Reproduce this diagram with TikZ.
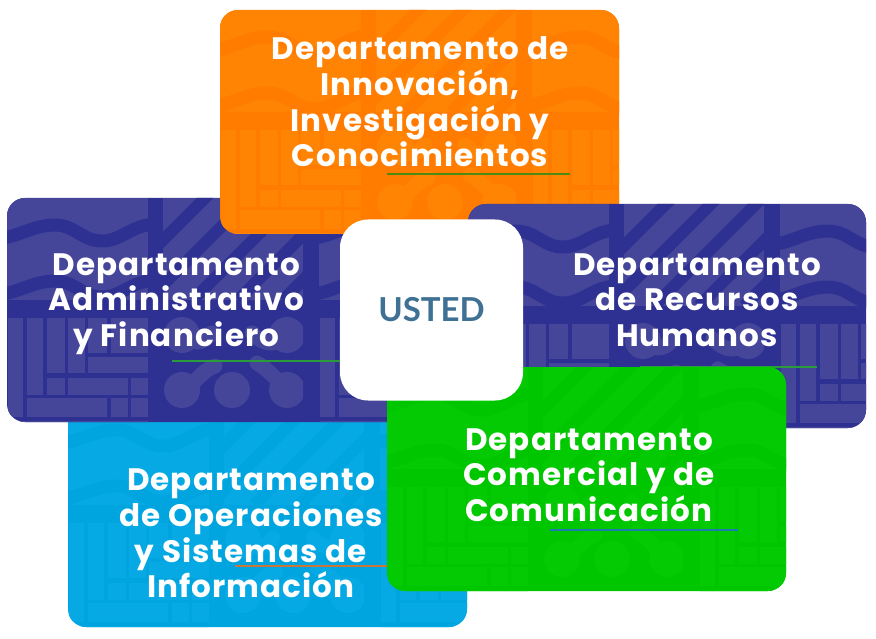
\documentclass[tikz,border=0pt]{standalone}
\usepackage{fontspec}
\setmainfont{Poppins}[LetterSpace=3.5]
\newfontfamily\ustedfont{Lato}
\definecolor{purD}{HTML}{2E3192}
\definecolor{purL}{HTML}{45469A}
\definecolor{oraD}{HTML}{FF7C00}
\definecolor{oraL}{HTML}{FF8404}
\definecolor{bluD}{HTML}{00A5E0}
\definecolor{bluL}{HTML}{06A9E3}
\definecolor{greD}{HTML}{00C600}
\definecolor{greL}{HTML}{03CA03}
\definecolor{ustedc}{HTML}{3F7195}
\definecolor{ruleOra}{HTML}{C8763A}
\definecolor{ruleGre}{HTML}{2A9A3A}
\definecolor{ruleOli}{HTML}{4F8A10}
\definecolor{ruleBlu}{HTML}{1C7AB5}
\tikzset{
  cardtext/.style={text=white,font=\fontsize{31}{35.7}\selectfont\bfseries,align=center,inner sep=0pt},
  rule/.style={line width=1.4pt},
  centrebox/.style={fill=white,rounded corners=28pt,minimum width=183pt,minimum height=181pt,inner sep=0pt,text=ustedc,font=\ustedfont\fontsize{33}{36}\selectfont\bfseries},
}
\newcommand{\bricks}[1]{%
  \begin{scope}[shift={(#1,0)}]
    \fill (1,120) rectangle (16,219);
    \fill (20,120) rectangle (36,197);
    \fill (40,120) rectangle (58,175);
    \fill (61,120) rectangle (78,175);
    \fill (81,120) rectangle (100,155);
    \fill (104,120) rectangle (141,155);
    \fill (81,159) rectangle (141,175);
    \fill (40,180) rectangle (58,197);
    \fill (61,180) rectangle (121,197);
    \fill (124,180) rectangle (141,197);
    \fill (20,200) rectangle (100,219);
    \fill (104,200) rectangle (121,219);
    \fill (124,200) rectangle (141,219);
    \fill (1,223) rectangle (141,240);
  \end{scope}}
\newcommand{\waves}[1]{%
  \begin{scope}[shift={(#1,0)}]
    \fill (0,0) rectangle (141,102);
    \foreach \wy in {34,90}{
      \draw[line width=13pt,draw=basecol]
        (-8,\wy+6) .. controls (10,\wy+6) and (25,\wy-7) .. (48,\wy-7)
        .. controls (68,\wy-7) and (75,\wy+9) .. (95,\wy+9)
        .. controls (115,\wy+9) and (125,\wy-8) .. (150,\wy-8);
    }
  \end{scope}}
\newcommand{\cardbg}[5]{% x y base light width
  \begin{scope}[shift={(#1,#2)}]
    \colorlet{basecol}{#3}
    \fill[#3,rounded corners=18pt] (0,0) rectangle (#5,224);
    \clip[rounded corners=18pt] (0,0) rectangle (#5,224);
    \begin{scope}[fill=#4]
      \waves{0}\waves{312}
      \bricks{0}\bricks{312}
      \begin{scope}
        \clip (156,0) rectangle (296,102);
        \fill (156,0) rectangle (296,102);
        \foreach \d in {-60,-15,30,75,120}{
          \draw[line width=12pt,draw=#3] (156+\d,102) -- (156+\d+110,-8);
        }
      \end{scope}
      \begin{scope}
        \clip (156,119) rectangle (296,224);
        \foreach \cx/\cy in {175/137,280/137,175/192,225/192,280/192}{
          \fill (\cx,\cy) circle (18);
        }
        \draw[line width=15pt,draw=#4,line cap=round] (175,192) .. controls (190,185) and (195,172) .. (208,168);
        \draw[line width=15pt,draw=#4,line cap=round] (280,192) .. controls (270,182) and (262,172) .. (250,165);
        \draw[line width=15pt,draw=#4,line cap=round] (175,137) .. controls (185,145) and (195,148) .. (205,135);
        \draw[line width=15pt,draw=#4,line cap=round] (280,137) .. controls (268,148) and (258,148) .. (245,135);
      \end{scope}
    \end{scope}
  \end{scope}}
\begin{document}
\begin{tikzpicture}[x=1pt,y=-1pt]
\useasboundingbox (0,0) rectangle (876,639);
% blue
\begin{scope}\cardbg{68}{403}{bluD}{bluL}{399}\end{scope}
\node[cardtext] (azul) at (251,533.5) {Departamento\\de Operaciones\\y Sistemas de\\Información};
\coordinate (azulA) at (235,566); \coordinate (azulB) at (392,566);
\draw[rule,draw=ruleOra] (azulA) -- (azulB);
% left purple
\begin{scope}\cardbg{7}{198}{purD}{purL}{399}\end{scope}
\node[cardtext] (admin) at (176.5,304) {Departamento\\Administrativo\\y Financiero};
\coordinate (adminA) at (172,361); \coordinate (adminB) at (345,361);
\draw[rule,draw=ruleGre] (adminA) -- (adminB);
% orange
\begin{scope}\cardbg{220}{10}{oraD}{oraL}{399}\end{scope}
\node[cardtext] (innov) at (420,102) {Departamento de\\Innovación,\\Investigación y\\Conocimientos};
\coordinate (innovA) at (387,174); \coordinate (innovB) at (570,174);
\draw[rule,draw=ruleOli] (innovA) -- (innovB);
% right purple
\begin{scope}\cardbg{468}{204}{purD}{purL}{398}\end{scope}
\node[cardtext] (rrhh) at (697,300) {Departamento\\de Recursos\\Humanos};
\coordinate (rrhhA) at (640,367); \coordinate (rrhhB) at (817,367);
\draw[rule,draw=ruleGre] (rrhhA) -- (rrhhB);
% green
\begin{scope}\cardbg{387}{367}{greD}{greL}{399}\end{scope}
\node[cardtext] (comer) at (589,475) {Departamento\\Comercial y de\\Comunicación};
\coordinate (comerA) at (550,530); \coordinate (comerB) at (738,530);
\draw[rule,draw=ruleBlu] (comerA) -- (comerB);
% centre
\node[centrebox] (usted) at (431.5,310) {USTED};
\end{tikzpicture}
\end{document}
